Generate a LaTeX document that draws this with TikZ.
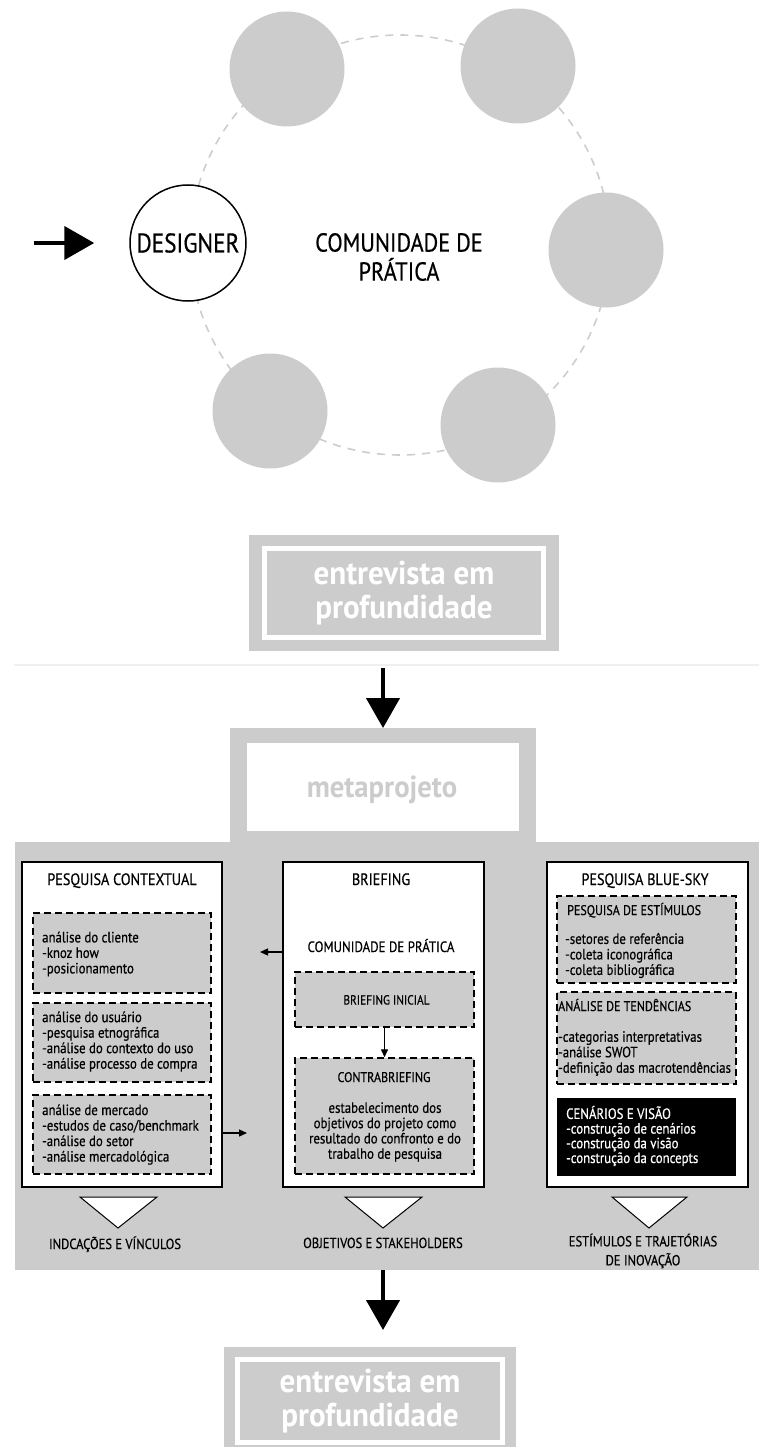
\documentclass[tikz,border=0pt]{standalone}
\usepackage{fontspec}
\setmainfont{PT Sans}[FakeStretch=0.86,FakeBold=0.5]
\newfontfamily\heavyfont{PT Sans}[FakeStretch=0.94]
\usetikzlibrary{arrows.meta}

\definecolor{cgray}{HTML}{CCCCCC}
\definecolor{ringgray}{HTML}{CDCDCD}
\definecolor{hairline}{HTML}{F0F0F0}
\newcommand\setfs[2]{\fontsize{#1}{#2}\selectfont}

\begin{document}
\begin{tikzpicture}[x=1pt,y=-1pt,
  member/.style={circle, fill=cgray, minimum size=115pt, inner sep=0pt},
  designer/.style={circle, draw=black, line width=1.5pt, fill=white, minimum size=116pt, inner sep=0pt, font=\setfs{27}{30}},
  ring/.style={draw=ringgray, line width=1.6pt, dash pattern=on 8pt off 7pt},
  bigarrow/.style={line width=4.5pt, -{Triangle[length=30pt,width=33pt]}},
  smallarrow/.style={line width=1.3pt, -{Triangle[length=8pt,width=7pt]}},
  graybox/.style={fill=cgray, inner sep=0pt, outer sep=0pt},
  frame/.style={draw=white, line width=5pt},
  bigword/.style={text=white, font=\heavyfont\bfseries\setfs{33}{34}, align=center},
  colbox/.style={draw=black, line width=1.4pt, fill=white, inner sep=0pt, minimum width=200pt, minimum height=325pt},
  dbox/.style={draw=black, line width=1.4pt, dash pattern=on 7pt off 4pt, fill=cgray, inner sep=0pt, minimum width=178pt},
  blackbox/.style={fill=black, inner sep=0pt, minimum width=179pt},
  title/.style={font=\setfs{16.5}{18}, inner sep=0pt, anchor=base},
  sub/.style={font=\setfs{14}{16}, inner sep=0pt, anchor=base},
  item/.style={font=\setfs{14.9}{15.5}, align=left, anchor=west, inner sep=0pt},
  outcome/.style={font=\setfs{14.6}{19}, align=center, inner sep=0pt},
  funnel/.style={draw=black, line width=1pt, fill=white, line join=miter}
]
\useasboundingbox (0,0) rectangle (759,1447);
\clip (0,0) rectangle (759,1447);

% ---------- community of practice ----------
\draw[ring] (400,245) circle (210);
\node[member] (m1) at (287,69) {};
\node[member] (m2) at (518,66) {};
\node[member] (m3) at (606,250) {};
\node[member] (m4) at (498,425) {};
\node[member] (m5) at (270,411) {};
\node[designer] (designer) at (188,243) {DESIGNER};
\node[font=\setfs{26}{29}, align=center, inner sep=0pt] (cop) at (399,257) {COMUNIDADE DE\\PRÁTICA};
\coordinate (feed) at (34,243);
\draw[bigarrow] (feed) -- ([xshift=-35pt]designer.west);

% ---------- first interview ----------
\node[graybox, minimum width=310pt, minimum height=116pt, bigword] (ent1) at (404,593) {entrevista em\\profundidade};
\draw[frame] ([xshift=15.5pt,yshift=-13.5pt]ent1.north west) rectangle ([xshift=-15.5pt,yshift=13.5pt]ent1.south east);
\draw[hairline, line width=1.5pt] (14,665) -- (759,665);

% ---------- metaprojeto ----------
\node[graybox, minimum width=306pt, minimum height=114pt] (metaouter) at (383,785) {};
\node[graybox, minimum width=744pt, minimum height=428pt] (panel) at (387,1056) {};
\node[fill=white, inner sep=0pt, minimum width=272pt, minimum height=88pt] (meta) at (383,787) {};
\node[text=cgray, font=\heavyfont\bfseries\setfs{30.5}{32}, inner sep=0pt] (metat) at (382,790) {metaprojeto};
\coordinate (a1s) at (383,668);
\draw[bigarrow] (a1s) -- (metaouter.north);

% ---------- column boxes ----------
\node[colbox] (ctx) at (122,1024.5) {};
\node[colbox, minimum width=201pt] (brief) at (383.5,1024.5) {};
\node[colbox, minimum width=201pt] (sky) at (647.5,1024.5) {};

\node[title] (ctxt) at (122,885) {PESQUISA CONTEXTUAL};
\node[title] (brieft) at (381,885) {BRIEFING};
\node[title] (skyt) at (645,885) {PESQUISA BLUE-SKY};

% contextual research
\node[dbox, minimum height=80pt] (cli) at (122,953) {};
\node[dbox, minimum height=79pt] (usr) at (122,1042.5) {};
\node[dbox, minimum height=79pt] (mkt) at (122,1134.5) {};
\node[item] (clit) at (42,954) {análise do cliente\\-knoz how\\-posicionamento};
\node[item] (usrt) at (42,1041.5) {análise do usuário\\-pesquisa etnográfica\\-análise do contexto do uso\\-análise processo de compra};
\node[item] (mktt) at (42,1134.5) {análise de mercado\\-estudos de caso/benchmark\\-análise do setor\\-análise mercadológica};

% briefing
\node[font=\setfs{15}{17}, inner sep=0pt, anchor=base] (copb) at (381,952) {COMUNIDADE DE PRÁTICA};
\node[dbox, minimum width=179pt, minimum height=55pt] (binit) at (384.5,999.5) {};
\node[dbox, minimum width=179pt, minimum height=116pt] (cbrief) at (384.5,1116) {};
\node[font=\setfs{13.2}{15}, inner sep=0pt, anchor=base] (binitt) at (386.5,1004.5) {BRIEFING INICIAL};
\node[sub] (cbrieft) at (384,1082) {CONTRABRIEFING};
\node[font=\setfs{14.9}{15.3}, align=center, inner sep=0pt] (cbriefb) at (385,1132) {estabelecimento dos\\objetivos do projeto como\\resultado do confronto e do\\trabalho de pesquisa};
\draw[smallarrow] (binit.south) -- (cbrief.north);

% blue-sky research
\node[dbox, minimum width=179pt, minimum height=87pt] (stim) at (646.5,939.5) {};
\node[dbox, minimum width=179pt, minimum height=92pt] (trend) at (646.5,1038) {};
\node[blackbox, minimum height=78pt] (scen) at (646.5,1137) {};
\node[sub, anchor=base west] (stimt) at (567,915) {PESQUISA DE ESTÍMULOS};
\node[item] (stimb) at (565,955.5) {-setores de referência\\-coleta iconográfica\\-coleta bibliográfica};
\node[sub, anchor=base west] (trendt) at (558,1011) {ANÁLISE DE TENDÊNCIAS};
\node[item] (trendb) at (558,1053.5) {-categorias interpretativas\\-análise SWOT\\-definição das macrotendências};
\node[item, text=white, font=\setfs{14.9}{14.7}] (scenb) at (566,1136) {CENÁRIOS E VISÃO\\-construção de cenários\\-construção da visão\\-construção da concepts};

% links between columns
\coordinate (lt) at (260,952);
\coordinate (rt) at (247,1133);
\draw[smallarrow] (brief.west |- lt) -- (lt);
\draw[smallarrow] (ctx.east |- rt) -- (rt);

% outputs
\draw[funnel] (80,1197) -- (157,1197) -- (118,1228) -- cycle;
\draw[funnel] (345,1197) -- (422,1197) -- (383,1228) -- cycle;
\draw[funnel] (612,1197) -- (687,1197) -- (649,1228) -- cycle;
\node[outcome, anchor=base] (o1) at (115,1249) {INDCAÇÕES E VÍNCULOS};
\node[outcome, anchor=base] (o2) at (383,1248) {OBJETIVOS E STAKEHOLDERS};
\node[outcome] (o3) at (643,1251) {ESTÍMULOS E TRAJETÓRIAS\\DE INOVAÇÃO};

% ---------- second interview ----------
\node[graybox, minimum width=292pt, minimum height=109pt, bigword] (ent2) at (370,1401.5) {entrevista em\\profundidade};
\draw[frame] ([xshift=13.5pt,yshift=-12.5pt]ent2.north west) rectangle ([xshift=-13.5pt,yshift=13.5pt]ent2.south east);
\coordinate (a2e) at (383,1330);
\draw[bigarrow] (panel.south -| metaouter.south) -- (a2e);
\end{tikzpicture}
\end{document}
